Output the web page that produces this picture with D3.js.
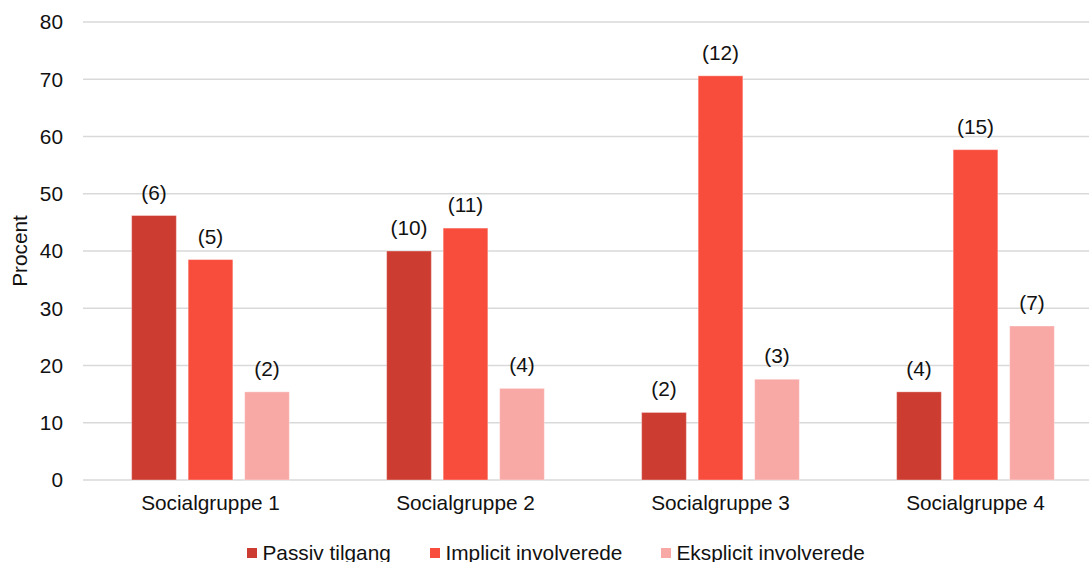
<!DOCTYPE html>
<html>
<head>
<meta charset="utf-8">
<script src="https://cdn.jsdelivr.net/npm/d3@7"></script>
<style>
    body { margin: 0; background: #fff; }
    text { font-family: "Liberation Sans", Arial, sans-serif; fill: #111; }
</style>
</head>
<body>
<div id="chart"></div>
<script>
const groups = ["Socialgruppe 1", "Socialgruppe 2", "Socialgruppe 3", "Socialgruppe 4"];
const seriesNames = ["Passiv tilgang", "Implicit involverede", "Eksplicit involverede"];
const passiv = [46.2, 40.0, 11.8, 15.4];
const implicit = [38.5, 44.0, 70.6, 57.7];
const eksplicit = [15.4, 16.0, 17.6, 26.9];
const passivN = ["(6)", "(10)", "(2)", "(4)"];
const implicitN = ["(5)", "(11)", "(12)", "(15)"];
const eksplicitN = ["(2)", "(4)", "(3)", "(7)"];
const yTicks = [0, 10, 20, 30, 40, 50, 60, 70, 80];
const colors = ["#cd3c30", "#f84d3d", "#f8a9a6"];

const width = 1089, height = 562;
const fontSize = 20.8;

const svg = d3.select("#chart").append("svg")
    .attr("width", width)
    .attr("height", height);

const x = d3.scaleBand()
    .domain(groups)
    .range([83, 1103]);

const xInner = d3.scaleBand()
    .domain(seriesNames)
    .range([0, x.bandwidth()])
    .paddingInner(0.209)
    .paddingOuter(0.861);

const y = d3.scaleLinear()
    .domain([0, 80])
    .range([480, 22]);

// gridlines
svg.append("g")
    .selectAll("line")
    .data(yTicks)
    .enter().append("line")
    .attr("x1", 83)
    .attr("x2", width)
    .attr("y1", d => y(d))
    .attr("y2", d => y(d))
    .attr("stroke", "#d9d9d9")
    .attr("stroke-width", 1.4);

// y tick labels
svg.append("g")
    .selectAll("text")
    .data(yTicks)
    .enter().append("text")
    .attr("x", 63)
    .attr("y", d => y(d))
    .attr("dy", "0.36em")
    .attr("text-anchor", "end")
    .style("font-size", fontSize + "px")
    .text(d => d);

svg.append("text")
    .attr("transform", "translate(27," + (y(40)) + ") rotate(-90)")
    .attr("text-anchor", "middle")
    .style("font-size", fontSize + "px")
    .text("Procent");

const table = [];
const seriesVals = [passiv, implicit, eksplicit];
const seriesLbls = [passivN, implicitN, eksplicitN];
groups.forEach((g, gi) => {
    seriesNames.forEach((s, si) => {
        table.push({ group: g, series: s, si: si, value: seriesVals[si][gi], label: seriesLbls[si][gi] });
    });
});

const bars = svg.append("g");
bars.selectAll("rect")
    .data(table)
    .enter().append("rect")
    .attr("x", d => x(d.group) + xInner(d.series))
    .attr("width", xInner.bandwidth())
    .attr("y", d => y(d.value))
    .attr("height", d => y(0) - y(d.value))
    .attr("fill", d => colors[d.si])
    .attr("stroke", "#fff")
    .attr("stroke-opacity", 0.35)
    .attr("stroke-width", 1);

bars.selectAll("text")
    .data(table)
    .enter().append("text")
    .attr("x", d => x(d.group) + xInner(d.series) + xInner.bandwidth() / 2)
    .attr("y", d => y(d.value) - 16)
    .attr("text-anchor", "middle")
    .style("font-size", fontSize + "px")
    .text(d => d.label);

// category labels
svg.append("g")
    .selectAll("text")
    .data(groups)
    .enter().append("text")
    .attr("x", d => x(d) + x.bandwidth() / 2)
    .attr("y", 510)
    .attr("text-anchor", "middle")
    .style("font-size", fontSize + "px")
    .text(d => d);

// legend
const legendX = [247, 430, 661];
const legend = svg.append("g");
seriesNames.forEach((s, i) => {
    legend.append("rect")
        .attr("x", legendX[i])
        .attr("y", 548)
        .attr("width", 10)
        .attr("height", 10)
        .attr("fill", colors[i]);
    legend.append("text")
        .attr("x", legendX[i] + 15.5)
        .attr("y", 560)
        .style("font-size", fontSize + "px")
        .text(s);
});
</script>
</body>
</html>
